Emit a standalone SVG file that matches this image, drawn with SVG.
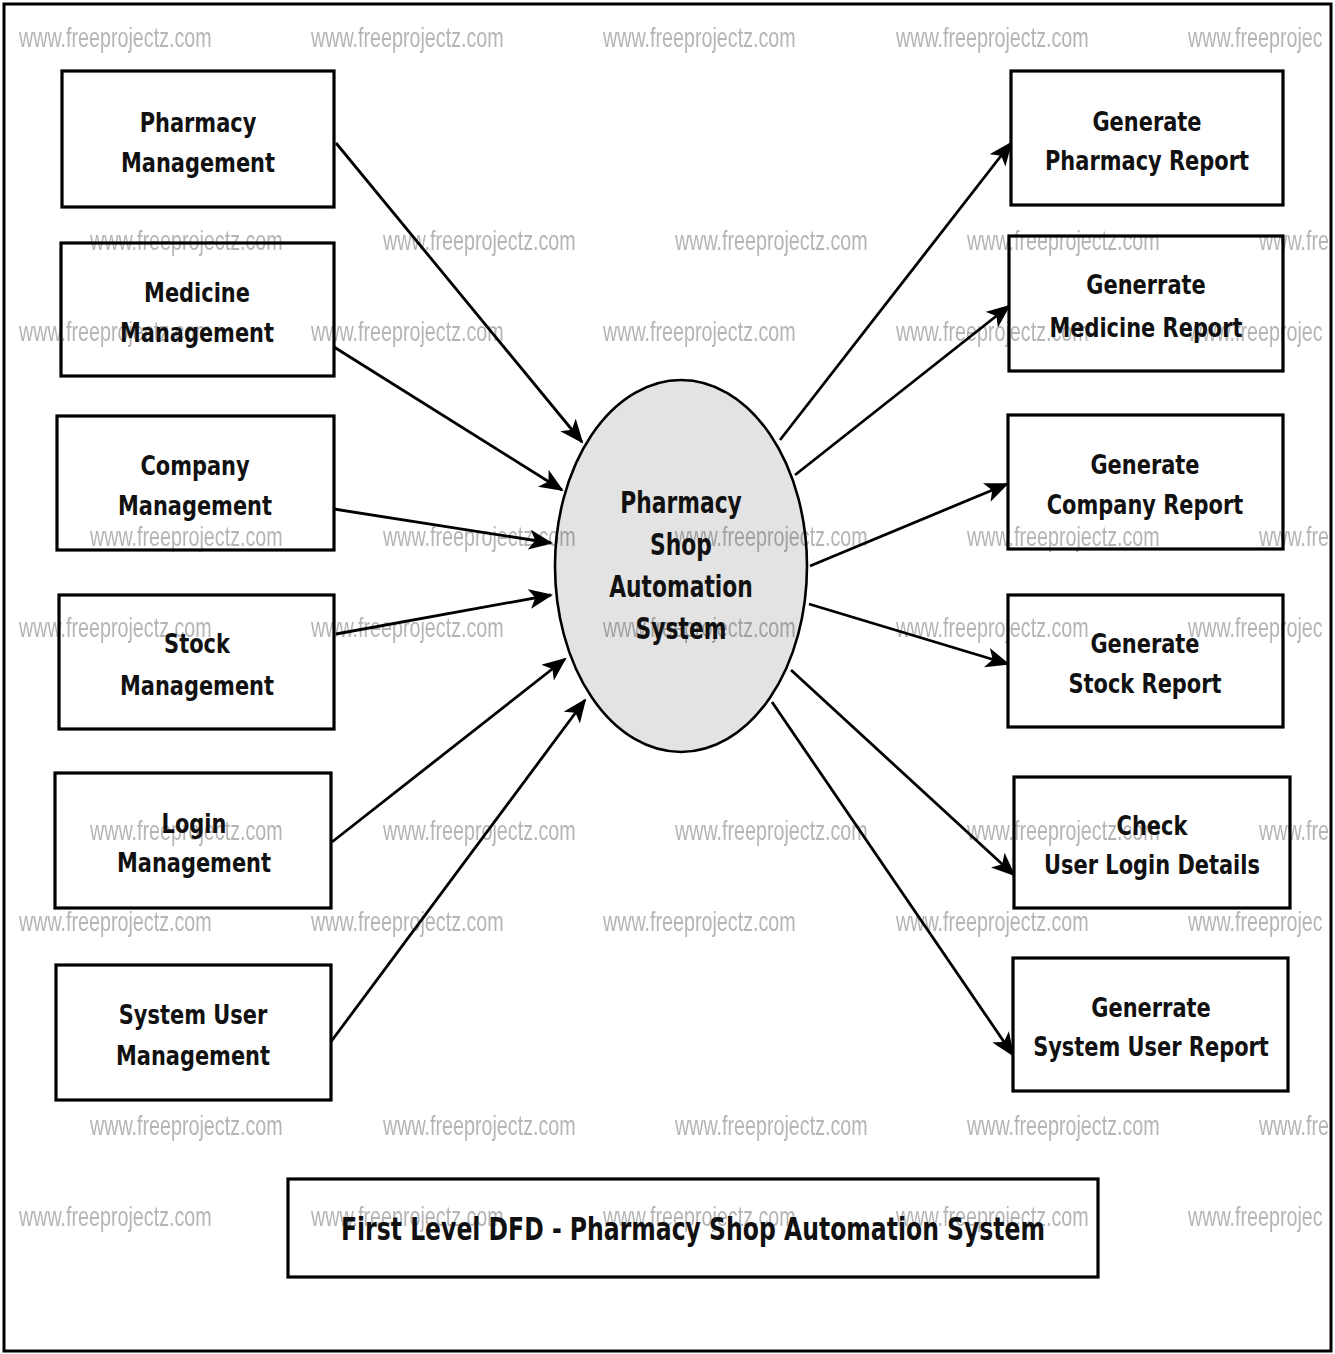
<svg xmlns="http://www.w3.org/2000/svg" width="1335" height="1354" viewBox="0 0 1335 1354">
<style>
.box{fill:#fff;stroke:#000;stroke-width:3.2}
.proc{fill:#e3e3e3;stroke:#000;stroke-width:2.6}
.lbl{font-family:"DejaVu Sans","Liberation Sans",sans-serif;font-weight:bold;font-size:26.5px;fill:#111;text-anchor:middle}
.clbl{font-family:"DejaVu Sans","Liberation Sans",sans-serif;font-weight:bold;font-size:29.5px;fill:#111;text-anchor:middle}
.title{font-family:"DejaVu Sans","Liberation Sans",sans-serif;font-weight:bold;font-size:32px;fill:#111;text-anchor:middle}
.wm{font-family:"Liberation Sans",Arial,sans-serif;font-size:27px;fill:#b5b5b5}
.flow{stroke:#000;stroke-width:2.8;fill:none;marker-end:url(#ah)}
</style>
<defs>
<marker id="ah" markerUnits="userSpaceOnUse" markerWidth="26" markerHeight="22" refX="22" refY="10" orient="auto">
<path d="M0,0 L24,10 L0,20 L6,10 Z" fill="#000"/>
</marker>
<clipPath id="inner"><rect x="6" y="6" width="1323" height="1343"/></clipPath>
</defs>
<rect x="0" y="0" width="1335" height="1354" fill="#fff"/>
<rect x="4" y="4" width="1327" height="1347" fill="none" stroke="#000" stroke-width="3"/>

<g id="connectors">
<line class="flow" x1="336" y1="143" x2="582" y2="442"/>
<line class="flow" x1="334" y1="347" x2="562" y2="490"/>
<line class="flow" x1="334" y1="509" x2="551" y2="543"/>
<line class="flow" x1="336" y1="634" x2="551" y2="595"/>
<line class="flow" x1="332" y1="842" x2="565" y2="659"/>
<line class="flow" x1="330" y1="1043" x2="585" y2="700"/>
<line class="flow" x1="780" y1="440" x2="1011" y2="143"/>
<line class="flow" x1="795" y1="475" x2="1009" y2="306"/>
<line class="flow" x1="810" y1="566" x2="1007" y2="484"/>
<line class="flow" x1="809" y1="604" x2="1008" y2="664"/>
<line class="flow" x1="791" y1="670" x2="1014" y2="875"/>
<line class="flow" x1="772" y1="702" x2="1013" y2="1055"/>
</g>

<g id="pharmacy-management">
<rect class="box" x="62" y="71" width="272" height="136"/>
<text class="lbl" transform="matrix(0.79 0 0 1 198 131.5)">Pharmacy</text>
<text class="lbl" transform="matrix(0.79 0 0 1 198 171.5)">Management</text>
</g>
<g id="medicine-management">
<rect class="box" x="61" y="243" width="273" height="133"/>
<text class="lbl" transform="matrix(0.79 0 0 1 197 301.5)">Medicine</text>
<text class="lbl" transform="matrix(0.79 0 0 1 197 341.5)">Management</text>
</g>
<g id="company-management">
<rect class="box" x="57" y="416" width="277" height="134"/>
<text class="lbl" transform="matrix(0.79 0 0 1 195 475)">Company</text>
<text class="lbl" transform="matrix(0.79 0 0 1 195 515)">Management</text>
</g>
<g id="stock-management">
<rect class="box" x="59" y="595" width="275" height="134"/>
<text class="lbl" transform="matrix(0.79 0 0 1 197 653)">Stock</text>
<text class="lbl" transform="matrix(0.79 0 0 1 197 695)">Management</text>
</g>
<g id="login-management">
<rect class="box" x="55" y="773" width="276" height="135"/>
<text class="lbl" transform="matrix(0.79 0 0 1 194 833)">Login</text>
<text class="lbl" transform="matrix(0.79 0 0 1 194 872)">Management</text>
</g>
<g id="system-user-management">
<rect class="box" x="56" y="965" width="275" height="135"/>
<text class="lbl" transform="matrix(0.79 0 0 1 193 1024)">System User</text>
<text class="lbl" transform="matrix(0.79 0 0 1 193 1065)">Management</text>
</g>

<g id="pharmacy-shop-automation-system">
<ellipse class="proc" cx="681" cy="566" rx="126" ry="186"/>
<text class="clbl" transform="matrix(0.74 0 0 1 681 513)">Pharmacy</text>
<text class="clbl" transform="matrix(0.74 0 0 1 681 555)">Shop</text>
<text class="clbl" transform="matrix(0.74 0 0 1 681 597)">Automation</text>
<text class="clbl" transform="matrix(0.74 0 0 1 681 639)">System</text>
</g>

<g id="generate-pharmacy-report">
<rect class="box" x="1011" y="71" width="272" height="134"/>
<text class="lbl" transform="matrix(0.79 0 0 1 1147 131)">Generate</text>
<text class="lbl" transform="matrix(0.79 0 0 1 1147 170)">Pharmacy Report</text>
</g>
<g id="generrate-medicine-report">
<rect class="box" x="1009" y="236" width="274" height="135"/>
<text class="lbl" transform="matrix(0.79 0 0 1 1146 294)">Generrate</text>
<text class="lbl" transform="matrix(0.79 0 0 1 1146 337)">Medicine Report</text>
</g>
<g id="generate-company-report">
<rect class="box" x="1008" y="415" width="275" height="134"/>
<text class="lbl" transform="matrix(0.79 0 0 1 1145 474)">Generate</text>
<text class="lbl" transform="matrix(0.79 0 0 1 1145 514)">Company Report</text>
</g>
<g id="generate-stock-report">
<rect class="box" x="1008" y="595" width="275" height="132"/>
<text class="lbl" transform="matrix(0.79 0 0 1 1145 653)">Generate</text>
<text class="lbl" transform="matrix(0.79 0 0 1 1145 693)">Stock Report</text>
</g>
<g id="check-user-login-details">
<rect class="box" x="1014" y="777" width="276" height="131"/>
<text class="lbl" transform="matrix(0.79 0 0 1 1152 835)">Check</text>
<text class="lbl" transform="matrix(0.79 0 0 1 1152 874)">User Login Details</text>
</g>
<g id="generrate-system-user-report">
<rect class="box" x="1013" y="958" width="275" height="133"/>
<text class="lbl" transform="matrix(0.79 0 0 1 1151 1017)">Generrate</text>
<text class="lbl" transform="matrix(0.79 0 0 1 1151 1056)">System User Report</text>
</g>

<g id="title">
<rect class="box" x="288" y="1179" width="810" height="98"/>
<text class="title" transform="matrix(0.735 0 0 1 693 1240)">First Level DFD - Pharmacy Shop Automation System</text>
</g>

<g id="watermarks" clip-path="url(#inner)" style="mix-blend-mode:multiply">
<text class="wm" transform="matrix(0.73 0 0 1 19 47)">www.freeprojectz.com</text>
<text class="wm" transform="matrix(0.73 0 0 1 311 47)">www.freeprojectz.com</text>
<text class="wm" transform="matrix(0.73 0 0 1 603 47)">www.freeprojectz.com</text>
<text class="wm" transform="matrix(0.73 0 0 1 896 47)">www.freeprojectz.com</text>
<text class="wm" transform="matrix(0.73 0 0 1 1188 47)">www.freeprojec</text>
<text class="wm" transform="matrix(0.73 0 0 1 90 250)">www.freeprojectz.com</text>
<text class="wm" transform="matrix(0.73 0 0 1 383 250)">www.freeprojectz.com</text>
<text class="wm" transform="matrix(0.73 0 0 1 675 250)">www.freeprojectz.com</text>
<text class="wm" transform="matrix(0.73 0 0 1 967 250)">www.freeprojectz.com</text>
<text class="wm" transform="matrix(0.73 0 0 1 1259 250)">www.fre</text>
<text class="wm" transform="matrix(0.73 0 0 1 19 341)">www.freeprojectz.com</text>
<text class="wm" transform="matrix(0.73 0 0 1 311 341)">www.freeprojectz.com</text>
<text class="wm" transform="matrix(0.73 0 0 1 603 341)">www.freeprojectz.com</text>
<text class="wm" transform="matrix(0.73 0 0 1 896 341)">www.freeprojectz.com</text>
<text class="wm" transform="matrix(0.73 0 0 1 1188 341)">www.freeprojec</text>
<text class="wm" transform="matrix(0.73 0 0 1 90 546)">www.freeprojectz.com</text>
<text class="wm" transform="matrix(0.73 0 0 1 383 546)">www.freeprojectz.com</text>
<text class="wm" transform="matrix(0.73 0 0 1 675 546)">www.freeprojectz.com</text>
<text class="wm" transform="matrix(0.73 0 0 1 967 546)">www.freeprojectz.com</text>
<text class="wm" transform="matrix(0.73 0 0 1 1259 546)">www.fre</text>
<text class="wm" transform="matrix(0.73 0 0 1 19 637)">www.freeprojectz.com</text>
<text class="wm" transform="matrix(0.73 0 0 1 311 637)">www.freeprojectz.com</text>
<text class="wm" transform="matrix(0.73 0 0 1 603 637)">www.freeprojectz.com</text>
<text class="wm" transform="matrix(0.73 0 0 1 896 637)">www.freeprojectz.com</text>
<text class="wm" transform="matrix(0.73 0 0 1 1188 637)">www.freeprojec</text>
<text class="wm" transform="matrix(0.73 0 0 1 90 840)">www.freeprojectz.com</text>
<text class="wm" transform="matrix(0.73 0 0 1 383 840)">www.freeprojectz.com</text>
<text class="wm" transform="matrix(0.73 0 0 1 675 840)">www.freeprojectz.com</text>
<text class="wm" transform="matrix(0.73 0 0 1 967 840)">www.freeprojectz.com</text>
<text class="wm" transform="matrix(0.73 0 0 1 1259 840)">www.fre</text>
<text class="wm" transform="matrix(0.73 0 0 1 19 931)">www.freeprojectz.com</text>
<text class="wm" transform="matrix(0.73 0 0 1 311 931)">www.freeprojectz.com</text>
<text class="wm" transform="matrix(0.73 0 0 1 603 931)">www.freeprojectz.com</text>
<text class="wm" transform="matrix(0.73 0 0 1 896 931)">www.freeprojectz.com</text>
<text class="wm" transform="matrix(0.73 0 0 1 1188 931)">www.freeprojec</text>
<text class="wm" transform="matrix(0.73 0 0 1 90 1135)">www.freeprojectz.com</text>
<text class="wm" transform="matrix(0.73 0 0 1 383 1135)">www.freeprojectz.com</text>
<text class="wm" transform="matrix(0.73 0 0 1 675 1135)">www.freeprojectz.com</text>
<text class="wm" transform="matrix(0.73 0 0 1 967 1135)">www.freeprojectz.com</text>
<text class="wm" transform="matrix(0.73 0 0 1 1259 1135)">www.fre</text>
<text class="wm" transform="matrix(0.73 0 0 1 19 1226)">www.freeprojectz.com</text>
<text class="wm" transform="matrix(0.73 0 0 1 311 1226)">www.freeprojectz.com</text>
<text class="wm" transform="matrix(0.73 0 0 1 603 1226)">www.freeprojectz.com</text>
<text class="wm" transform="matrix(0.73 0 0 1 896 1226)">www.freeprojectz.com</text>
<text class="wm" transform="matrix(0.73 0 0 1 1188 1226)">www.freeprojec</text>
</g>
</svg>
